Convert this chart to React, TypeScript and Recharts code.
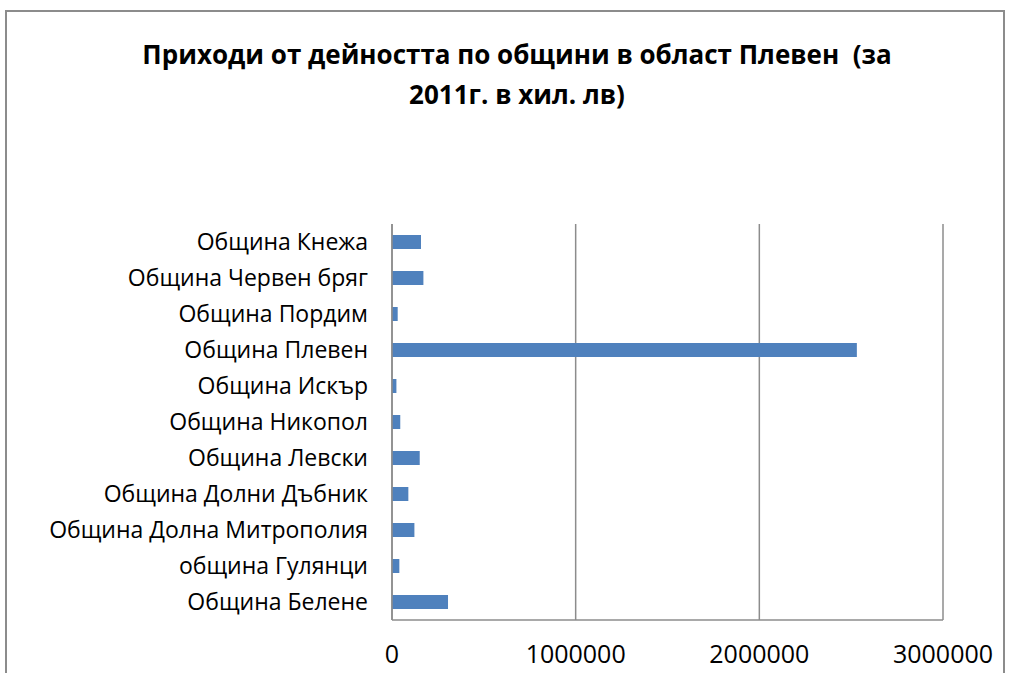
import { BarChart, Bar, XAxis, YAxis, CartesianGrid } from "recharts";

const municipalities = [
  "Община Кнежа",
  "Община Червен бряг",
  "Община Пордим",
  "Община Плевен",
  "Община Искър",
  "Община Никопол",
  "Община Левски",
  "Община Долни Дъбник",
  "Община Долна Митрополия",
  "община Гулянци",
  "Община Белене",
];

const revenue = [158000, 171000, 31000, 2531000, 24000, 45000, 151000, 89000, 122000, 40000, 305000];

const xTicks = [0, 1000000, 2000000, 3000000];

const data = municipalities.map((name, i) => ({ name, value: revenue[i] }));

const font = "'Open Sans', 'Liberation Sans', sans-serif";

export default function App() {
  return (
    <div style={{ position: "fixed", left: 0, top: 0, width: 1010, height: 673, background: "#fff", overflow: "hidden" }}>
      <div
        style={{
          position: "absolute",
          left: 5,
          top: 10,
          width: 1000,
          height: 680,
          border: "2px solid #8c8c8c",
          boxSizing: "border-box",
        }}
      />
      <div
        style={{
          position: "absolute",
          left: 0,
          top: 34,
          width: 1034,
          textAlign: "center",
          fontFamily: font,
          fontWeight: 700,
          fontSize: 26,
          lineHeight: "40px",
          color: "#000",
        }}
      >
        Приходи от дейността по общини в област Плевен&nbsp; (за
        <br />
        2011г. в хил. лв)
      </div>
      <div style={{ position: "absolute", left: 0, top: 0 }}>
        <BarChart
          width={1010}
          height={673}
          data={data}
          layout="vertical"
          margin={{ top: 224, right: 67, left: 0, bottom: 13 }}
          barSize={14}
        >
          <CartesianGrid horizontal={false} stroke="#8c8c8c" strokeWidth={1.5} />
          <XAxis
            type="number"
            domain={[0, 3000000]}
            ticks={xTicks}
            tickLine={false}
            tickSize={0}
            tickMargin={25}
            height={40}
            axisLine={{ stroke: "#8c8c8c", strokeWidth: 1.5 }}
            tick={{ fill: "#000", fontSize: 25, fontFamily: font }}
            interval={0}
          />
          <YAxis
            type="category"
            dataKey="name"
            width={392}
            tickLine={false}
            tickSize={0}
            tickMargin={24}
            axisLine={{ stroke: "#8c8c8c", strokeWidth: 1.5 }}
            tick={{ fill: "#000", fontSize: 23, fontFamily: font }}
            interval={0}
          />
          <Bar dataKey="value" fill="#4f81bd" isAnimationActive={false} />
        </BarChart>
      </div>
    </div>
  );
}
